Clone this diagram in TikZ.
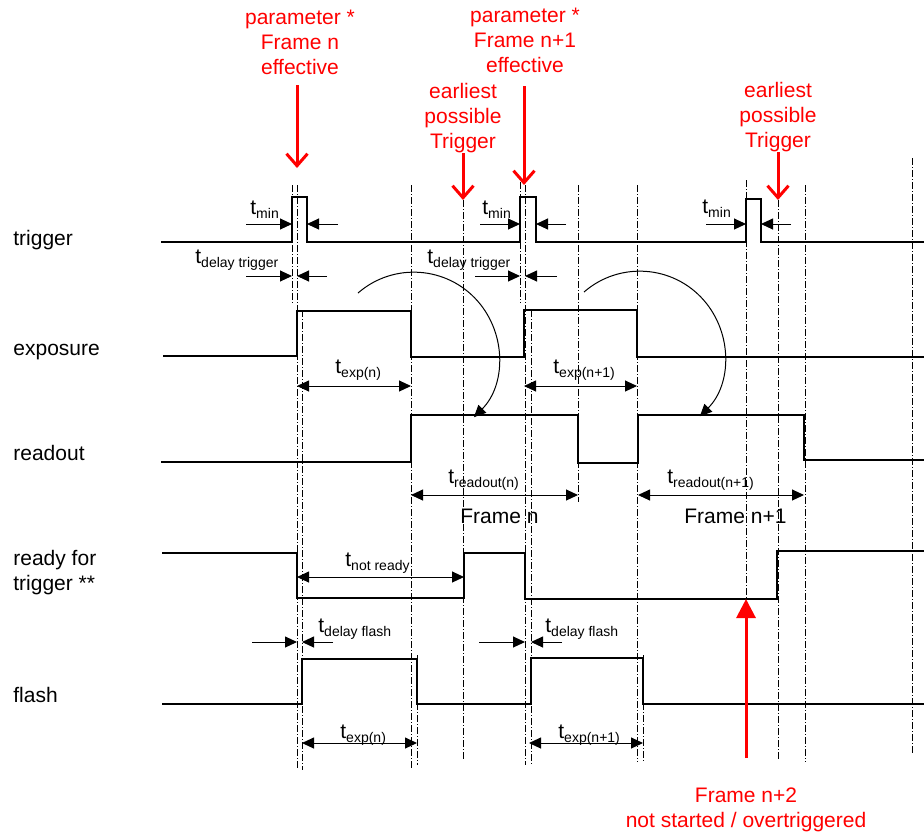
\documentclass[tikz,border=0pt]{standalone}
\usepackage{fontspec}
\setmainfont{Liberation Sans}
\usetikzlibrary{arrows.meta}

\newcommand{\tsub}[1]{t\raisebox{-2pt}{\fontsize{7}{8}\selectfont #1}}

\begin{document}
\begin{tikzpicture}[x=0.5pt, y=-0.5pt,
    every node/.style={font=\fontsize{10.5}{12.5}\selectfont, inner sep=0pt},
    sig/.style={line width=1pt},
    guide/.style={line width=0.4pt, dash pattern=on 3.5pt off 1pt on 0.5pt off 1pt},
    dim/.style={line width=0.5pt, -{Triangle[length=6pt,width=5.5pt]}},
    dimboth/.style={line width=0.5pt, {Triangle[length=6pt,width=5.5pt]}-{Triangle[length=6pt,width=5.5pt]}},
    swing/.style={line width=0.5pt, -{Triangle[length=6pt,width=5.5pt]}},
    note/.style={text=red, align=center},
    pointdown/.style={red, line width=1.5pt, -{Straight Barb[length=6pt,width=10.5pt]}},
    pointup/.style={red, line width=1.5pt, -{Triangle[length=9.5pt,width=9.5pt]}}]
    \useasboundingbox (0,0) rectangle (924,836);

    % signal names
    \node[anchor=base west] (ltrig) at (13,245) {trigger};
    \node[anchor=base west] (lexp) at (13,355) {exposure};
    \node[anchor=base west] (lread) at (13,460) {readout};
    \node[anchor=west, align=left] (lready) at (13,573) {ready for\\trigger **};
    \node[anchor=base west] (lflash) at (13,702) {flash};

    % guide lines
    \draw[guide] (292,185) -- (292,305);
    \draw[guide] (297,185) -- (297,770);
    \draw[guide] (302,310) -- (302,770);
    \draw[guide] (411,185) -- (411,770);
    \draw[guide] (417,655) -- (417,765);
    \draw[guide] (463,200) -- (463,760);
    \draw[guide] (520,182) -- (520,303);
    \draw[guide] (525,185) -- (525,765);
    \draw[guide] (531,310) -- (531,765);
    \draw[guide] (578,185) -- (578,502);
    \draw[guide] (637,185) -- (637,762);
    \draw[guide] (643,655) -- (643,762);
    \draw[guide] (746,180) -- (746,600);
    \draw[guide] (778,200) -- (778,760);
    \draw[guide] (805,185) -- (805,762);
    \draw[guide] (912,158) -- (912,753);

    % signals
    \draw[sig] (161,242) -- (292,242) -- (292,197) -- (307,197) -- (307,242)
        -- (520,242) -- (520,197) -- (536,197) -- (536,242)
        -- (746,242) -- (746,199) -- (761,199) -- (761,242) -- (924,242);
    \draw[sig] (163,356) -- (297,356) -- (297,311) -- (411,311) -- (411,357)
        -- (524,357) -- (524,310) -- (637,310) -- (637,357) -- (924,357);
    \draw[sig] (161,462) -- (411,462) -- (411,415) -- (578,415) -- (578,463)
        -- (638,463) -- (638,415) -- (804,415) -- (804,460) -- (924,460);
    \draw[sig] (162,553) -- (297,553) -- (297,598) -- (464,598) -- (464,553)
        -- (525,553) -- (525,599) -- (777,599) -- (777,551) -- (924,551);
    \draw[sig] (162,704) -- (302,704) -- (302,659) -- (417,659) -- (417,704)
        -- (531,704) -- (531,658) -- (643,658) -- (643,704) -- (924,704);

    % trigger timings
    \node[anchor=base west] (tmin1) at (250,214) {\tsub{min}};
    \draw[dim] (246,224) -- (292,224);
    \draw[dim] (338,224) -- (307,224);
    \node[anchor=base west] (tdel1) at (195,263) {\tsub{delay trigger}};
    \draw[dim] (246,276) -- (292,276);
    \draw[dim] (327,276) -- (297,276);
    \node[anchor=base west] (tmin2) at (482,214) {\tsub{min}};
    \draw[dim] (480,224) -- (520,224);
    \draw[dim] (566,224) -- (536,224);
    \node[anchor=base west] (tdel2) at (427,263) {\tsub{delay trigger}};
    \draw[dim] (475,276) -- (520,276);
    \draw[dim] (557,276) -- (525,276);
    \node[anchor=base west] (tmin3) at (702,213) {\tsub{min}};
    \draw[dim] (706,224) -- (746,224);
    \draw[dim] (791,224) -- (761,224);

    % exposure and readout
    \node[anchor=base west] (texp1) at (335,373) {\tsub{exp(n)}};
    \draw[dimboth] (297,386) -- (411,386);
    \node[anchor=base west] (texp2) at (553,373) {\tsub{exp(n+1)}};
    \draw[dimboth] (524,386) -- (637,386);
    \node[anchor=base west] (tread1) at (448,483) {\tsub{readout(n)}};
    \draw[dimboth] (411,495) -- (578,495);
    \node[anchor=base west] (tread2) at (667,483) {\tsub{readout(n+1)}};
    \draw[dimboth] (638,495) -- (804,495);
    \node[anchor=base west] (frame1) at (460,523) {Frame n};
    \node[anchor=base west] (frame2) at (684,523) {Frame n+1};
    \draw[swing] (358,293) arc[start angle=131, end angle=-45, radius=42.5pt];
    \draw[swing] (584,292) arc[start angle=131, end angle=-45, radius=42.5pt];

    % ready and flash
    \node[anchor=base west] (tnot) at (345,566) {\tsub{not ready}};
    \draw[dimboth] (297,577) -- (464,577);
    \node[anchor=base west] (tfl1) at (318,632) {\tsub{delay flash}};
    \draw[dim] (252,642) -- (297,642);
    \draw[dim] (333,642) -- (302,642);
    \node[anchor=base west] (tfl2) at (545,632) {\tsub{delay flash}};
    \draw[dim] (479,642) -- (525,642);
    \draw[dim] (562,642) -- (531,642);
    \node[anchor=base west] (tfexp1) at (340,738) {\tsub{exp(n)}};
    \draw[dimboth] (302,743) -- (417,743);
    \node[anchor=base west] (tfexp2) at (558,738) {\tsub{exp(n+1)}};
    \draw[dimboth] (529,743) -- (643,743);

    % red notes
    \node[note] (par1) at (300,42) {parameter *\\Frame n\\effective};
    \node[note] (par2) at (525,40) {parameter *\\Frame n+1\\effective};
    \node[note] (early1) at (463,118) {earliest\\possible\\Trigger};
    \node[note] (early2) at (778,117) {earliest\\possible\\Trigger};
    \node[note] (over) at (746,810) {Frame n+2\\not started / overtriggered};
    \coordinate (par1tip) at (297,168);
    \coordinate (par2tip) at (524,185);
    \coordinate (early1tip) at (463,200);
    \coordinate (early2tip) at (778,200);
    \coordinate (overtip) at (746,599);

    \draw[pointdown] (297,85) -- (par1tip);
    \draw[pointdown] (524,86) -- (par2tip);
    \draw[pointdown] (early1.south) -- (early1tip);
    \draw[pointdown] (early2.south) -- (early2tip);
    \draw[pointup] (746,758) -- (overtip);
\end{tikzpicture}
\end{document}
